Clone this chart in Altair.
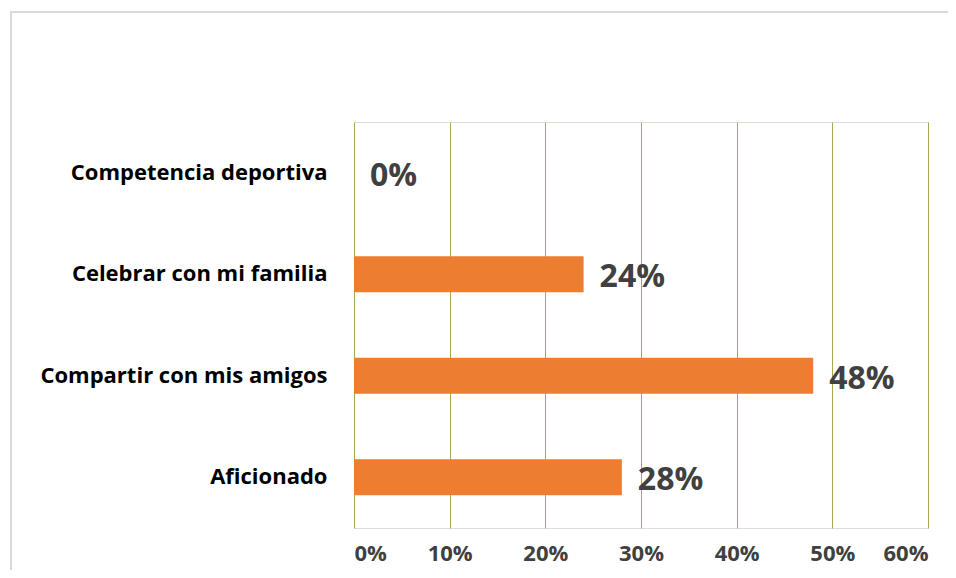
import altair as alt
import pandas as pd

categories = ["Competencia deportiva", "Celebrar con mi familia", "Compartir con mis amigos", "Aficionado"]
values = [0.0, 0.24, 0.48, 0.28]
labels = ["0%", "24%", "48%", "28%"]

df = pd.DataFrame({"cat": categories, "val": values, "lbl": labels})

FONT = "Open Sans"
TXT = "#404040"

x = alt.X("val:Q", scale=alt.Scale(domain=[0, 0.6], nice=False),
          axis=alt.Axis(format=".0%", values=[0, 0.1, 0.2, 0.3, 0.4, 0.5, 0.6],
                        grid=True, gridColor="#a8a850", gridWidth=1,
                        domain=False, ticks=False, labelFont=FONT, labelFontSize=22,
                        labelFontWeight="bold", labelColor=TXT, labelPadding=15, title=None))
y = alt.Y("cat:N", sort=categories, scale=alt.Scale(paddingInner=0.645, paddingOuter=0.3225),
          axis=alt.Axis(domain=False, ticks=False, labelFont=FONT, labelFontSize=22,
                        labelFontWeight="bold", labelColor="#000000", labelPadding=27,
                        title=None, labelLimit=400))

bars = alt.Chart(df).mark_bar(color="#ED7D31").encode(x=x, y=y)
text = alt.Chart(df).mark_text(align="left", baseline="middle", dx=16, dy=3,
                               font=FONT, fontSize=32, fontWeight="bold", color=TXT).encode(
    x="val:Q", y=alt.Y("cat:N", sort=categories), text="lbl:N")

frame_v = alt.Chart(df).mark_rule(color="#d9d9d9", strokeWidth=2, clip=False).encode(
    x=alt.value(-343), y=alt.value(-110), y2=alt.value(460))
frame_h = alt.Chart(df).mark_rule(color="#d9d9d9", strokeWidth=2, clip=False).encode(
    x=alt.value(-344), x2=alt.value(600), y=alt.value(-110))

chart = alt.layer(bars, text, frame_v, frame_h).properties(
    width=574, height=406,
    autosize=alt.AutoSizeParams(type="none"),
    padding={"left": 346, "top": 114, "right": 20, "bottom": 42},
).configure_view(stroke=None).configure(background="white")

chart.save("out.html", embed_options={"renderer": "svg", "actions": False})
